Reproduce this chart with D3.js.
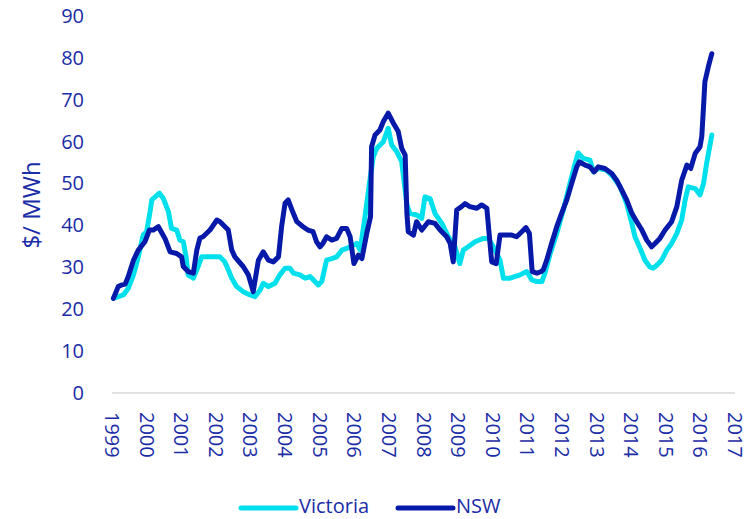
<!DOCTYPE html>
<html>
<head>
<meta charset="utf-8">
<script src="https://cdn.jsdelivr.net/npm/d3@7"></script>
<style>
  html, body { margin: 0; padding: 0; background: #ffffff; }
  svg { display: block; }
  text { font-family: "Open Sans", "DejaVu Sans", sans-serif; }
</style>
</head>
<body>
<svg id="chart" width="753" height="519"></svg>
<script>
// ---- Data ----
const seriesNames = ["Victoria", "NSW"];
const yearTicks = [1999, 2000, 2001, 2002, 2003, 2004, 2005, 2006, 2007, 2008,
                   2009, 2010, 2011, 2012, 2013, 2014, 2015, 2016, 2017];
const priceTicks = [0, 10, 20, 30, 40, 50, 60, 70, 80, 90];

const nswDates = [1999.04,1999.18,1999.28,1999.38,1999.47,1999.62,1999.76,1999.95,2000.08,2000.19,
  2000.34,2000.53,2000.68,2000.87,2001.01,2001.06,2001.20,2001.35,2001.45,2001.54,
  2001.63,2001.83,2002.03,2002.12,2002.36,2002.46,2002.55,2002.79,2002.94,2003.08,
  2003.23,2003.37,2003.52,2003.66,2003.81,2003.90,2004.00,2004.09,2004.20,2004.34,
  2004.52,2004.66,2004.81,2004.91,2005.01,2005.10,2005.20,2005.35,2005.49,2005.64,
  2005.78,2005.88,2005.99,2006.12,2006.22,2006.36,2006.47,2006.50,2006.60,2006.74,
  2006.84,2006.98,2007.13,2007.27,2007.37,2007.47,2007.52,2007.56,2007.71,2007.80,
  2007.95,2008.14,2008.33,2008.48,2008.67,2008.77,2008.86,2008.96,2009.10,2009.20,
  2009.34,2009.54,2009.68,2009.83,2009.97,2010.10,2010.21,2010.40,2010.55,2010.69,
  2010.84,2010.96,2011.06,2011.14,2011.28,2011.40,2011.46,2011.56,2011.70,2011.85,
  2011.99,2012.14,2012.28,2012.43,2012.50,2012.67,2012.81,2012.93,2013.05,2013.24,
  2013.44,2013.58,2013.73,2013.87,2014.02,2014.16,2014.31,2014.45,2014.59,2014.69,
  2014.83,2014.98,2015.17,2015.32,2015.46,2015.61,2015.72,2015.85,2015.99,2016.04,
  2016.09,2016.13,2016.23,2016.33];
const nswPrices = [22.6,25.4,25.8,26.0,27.8,31.7,34.1,36.1,38.9,38.9,
  39.7,36.9,33.7,33.3,32.5,30.2,29.0,28.6,34.1,37.0,
  37.3,38.9,41.3,40.9,38.9,34.1,32.5,30.2,28.2,24.2,
  31.7,33.7,31.7,31.3,32.5,39.7,45.3,46.1,43.7,40.9,
  39.7,38.9,38.5,36.1,34.9,35.8,37.3,36.5,36.9,39.3,
  39.3,37.3,30.9,32.9,32.1,38.1,42.1,58.8,61.6,62.8,
  64.8,66.8,64.4,62.4,58.4,56.8,42.9,38.5,37.7,40.9,
  38.9,40.9,40.5,38.9,37.3,35.7,31.3,43.7,44.5,45.2,
  44.5,44.1,44.9,44.1,31.3,30.9,37.7,37.7,37.7,37.3,
  38.5,39.5,38.1,29.0,28.6,29.0,29.4,31.7,35.7,39.7,
  42.9,46.1,50.0,54.0,55.2,54.4,54.0,52.8,54.0,53.6,
  52.4,50.8,48.4,46.1,42.9,40.9,38.9,36.5,34.9,35.7,
  36.9,38.9,40.9,44.5,50.8,54.4,53.6,57.2,58.8,61.2,
  68.3,74.3,77.9,81.0];

const vicDates = [1999.04,1999.33,1999.47,1999.62,1999.76,1999.90,2000.00,2000.10,2000.15,2000.37,
  2000.48,2000.63,2000.72,2000.87,2000.96,2001.06,2001.14,2001.20,2001.35,2001.49,
  2001.59,2001.83,2002.12,2002.26,2002.36,2002.46,2002.60,2002.79,2002.99,2003.13,
  2003.28,2003.37,2003.52,2003.71,2003.85,2004.00,2004.14,2004.24,2004.43,2004.58,
  2004.72,2004.82,2004.96,2005.06,2005.20,2005.35,2005.49,2005.64,2005.78,2005.88,
  2006.07,2006.17,2006.31,2006.45,2006.55,2006.65,2006.84,2006.98,2007.08,2007.23,
  2007.37,2007.52,2007.61,2007.80,2007.95,2008.04,2008.19,2008.33,2008.53,2008.72,
  2008.91,2009.05,2009.15,2009.29,2009.49,2009.73,2009.87,2010.02,2010.21,2010.31,
  2010.50,2010.79,2010.98,2011.13,2011.27,2011.42,2011.51,2011.66,2011.85,2012.04,
  2012.23,2012.38,2012.47,2012.62,2012.81,2012.91,2013.05,2013.29,2013.48,2013.68,
  2013.87,2014.02,2014.11,2014.26,2014.40,2014.54,2014.64,2014.74,2014.88,2015.03,
  2015.17,2015.32,2015.46,2015.56,2015.65,2015.85,2015.99,2016.09,2016.18,2016.33];
const vicPrices = [22.6,23.4,25.0,28.2,32.5,37.7,38.5,43.3,46.1,47.7,
  46.5,43.3,39.3,38.9,36.5,36.1,32.5,28.2,27.4,30.2,
  32.5,32.5,32.5,31.3,29.4,27.4,25.4,24.2,23.4,23.0,
  24.6,26.2,25.4,26.2,28.2,29.8,29.8,28.6,28.2,27.4,
  27.8,27.0,25.8,26.6,31.7,32.1,32.5,34.1,34.5,34.9,
  35.7,34.1,42.1,50.8,56.4,58.4,60.0,63.2,59.2,57.6,
  55.2,44.9,42.9,42.5,41.7,46.8,46.4,42.9,40.5,37.3,
  34.9,30.9,34.1,34.9,36.1,36.9,36.9,34.9,31.7,27.4,
  27.4,28.2,29.0,27.0,26.6,26.6,28.6,33.3,38.1,43.7,
  50.0,54.8,57.3,56.0,55.6,52.8,53.6,53.2,51.6,49.2,
  45.2,40.5,37.3,34.5,31.7,30.1,29.8,30.5,31.7,34.1,
  35.7,38.1,41.3,46.1,49.2,48.8,47.3,50.0,54.8,61.6];

// ---- Styles ----
const textColor = "#1a2ca6";
const vicColor = "#00e0ec";
const nswColor = "#0619a8";

const svg = d3.select("#chart");

const x = d3.scaleLinear().domain([1999, 2017]).range([112, 735]);
const y = d3.scaleLinear().domain([0, 90]).range([393, 16]);

// baseline
svg.append("line")
  .attr("x1", x(1999)).attr("x2", x(2017))
  .attr("y1", y(0)).attr("y2", y(0))
  .attr("stroke", "#d9d9d9").attr("stroke-width", 1.5);

// y axis
const yAxis = svg.append("g")
  .attr("transform", "translate(88,0)")
  .call(d3.axisLeft(y).tickValues(priceTicks).tickSize(0).tickPadding(4).tickFormat(d3.format("d")));
yAxis.select(".domain").remove();
yAxis.selectAll("text")
  .attr("fill", textColor)
  .style("font-size", "20px")
  .style("font-family", "\"Open Sans\", sans-serif");

// x axis
const xAxis = svg.append("g")
  .attr("transform", `translate(0,${y(0)})`)
  .call(d3.axisBottom(x).tickValues(yearTicks).tickSize(0).tickFormat(d3.format("d")));
xAxis.select(".domain").remove();
xAxis.selectAll("text")
  .attr("fill", textColor)
  .style("font-size", "20px")
  .style("font-family", "\"Open Sans\", sans-serif")
  .attr("text-anchor", "start")
  .attr("dy", null)
  .attr("y", 0)
  .attr("dominant-baseline", "central")
  .attr("transform", "translate(0,19) rotate(90)");

// y axis title
svg.append("text")
  .attr("transform", "translate(30,205) rotate(-90)")
  .attr("text-anchor", "middle")
  .attr("dominant-baseline", "central")
  .attr("fill", textColor)
  .style("font-size", "24px")
  .text("$/ MWh");

// lines
const line = d3.line()
  .x(d => x(d[0]))
  .y(d => y(d[1]));

const vicData = vicDates.map((d, i) => [d, vicPrices[i]]);
const nswData = nswDates.map((d, i) => [d, nswPrices[i]]);

svg.append("path")
  .datum(vicData)
  .attr("d", line)
  .attr("fill", "none")
  .attr("stroke", vicColor)
  .attr("stroke-width", 5)
  .attr("stroke-linejoin", "round")
  .attr("stroke-linecap", "round");

svg.append("path")
  .datum(nswData)
  .attr("d", line)
  .attr("fill", "none")
  .attr("stroke", nswColor)
  .attr("stroke-width", 5)
  .attr("stroke-linejoin", "round")
  .attr("stroke-linecap", "round");

// legend
const legendItems = [
  { name: seriesNames[0], color: vicColor, x0: 241 },
  { name: seriesNames[1], color: nswColor, x0: 398 }
];
const lg = svg.append("g");
legendItems.forEach(item => {
  lg.append("line")
    .attr("x1", item.x0).attr("x2", item.x0 + 55)
    .attr("y1", 508).attr("y2", 508)
    .attr("stroke", item.color)
    .attr("stroke-width", 5)
    .attr("stroke-linecap", "round");
  lg.append("text")
    .attr("x", item.x0 + 58)
    .attr("y", 513)
    .attr("fill", textColor)
    .style("font-size", "20px")
    .text(item.name);
});
</script>
</body>
</html>
